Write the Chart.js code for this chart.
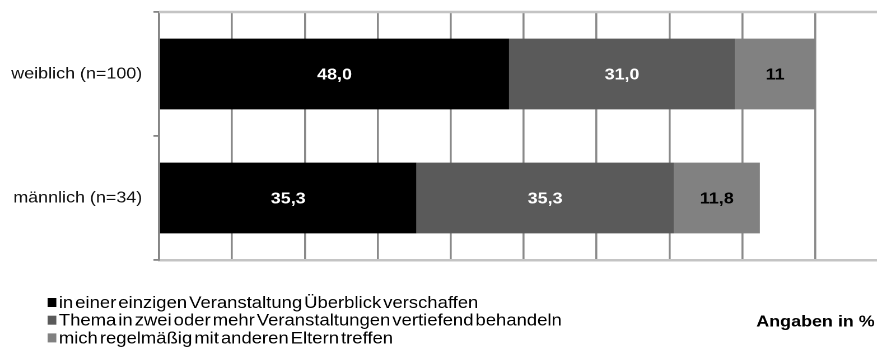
<!DOCTYPE html>
<html>
<head>
<meta charset="utf-8">
<script src="https://cdn.jsdelivr.net/npm/chart.js@4/dist/chart.umd.min.js"></script>
<style>
  html, body { margin: 0; padding: 0; background: #fff; overflow: hidden; width: 877px; height: 349px; }
  #wrap { transform: scaleX(1.12); transform-origin: 0 0; width: 797px; height: 349px; }
</style>
</head>
<body>
<div id="wrap">
  <canvas id="myChart" width="797" height="349" style="width:797px;height:349px"></canvas>
</div>
<script>
const categories = ["weiblich (n=100)", "männlich (n=34)"];
const seriesNames = [
  "in einer einzigen Veranstaltung Überblick verschaffen",
  "Thema in zwei oder mehr Veranstaltungen vertiefend behandeln",
  "mich regelmäßig mit anderen Eltern treffen",
];
const einmalig = [48.0, 35.3];
const vertiefend = [31.0, 35.3];
const regelmaessig = [11, 11.8];
// decimals shown in the value labels, per series and category
const labelDigits = [[1, 1], [1, 1], [0, 1]];
const seriesColors = ["#000000", "#5a5a5a", "#818181"];
const labelColors = ["#ffffff", "#ffffff", "#000000"];
const note = "Angaben in %";

const FONT = "'Liberation Sans', Arial, Helvetica, sans-serif";

const topLine = {
  id: "topLine",
  beforeDatasetsDraw(chart) {
    const { ctx, chartArea } = chart;
    ctx.save();
    ctx.strokeStyle = "#c4c4c4";
    ctx.lineWidth = 2.5;
    ctx.beginPath();
    ctx.moveTo(chartArea.left, chartArea.top);
    ctx.lineTo(chart.width, chartArea.top);
    ctx.stroke();
    ctx.restore();
  },
};

const valueLabels = {
  id: "valueLabels",
  afterDatasetsDraw(chart) {
    const ctx = chart.ctx;
    ctx.save();
    ctx.font = "bold 16px " + FONT;
    ctx.textAlign = "center";
    ctx.textBaseline = "middle";
    chart.data.datasets.forEach(function (ds, i) {
      const meta = chart.getDatasetMeta(i);
      meta.data.forEach(function (bar, j) {
        const txt = ds.data[j].toFixed(labelDigits[i][j]).replace(".", ",");
        ctx.fillStyle = labelColors[i];
        ctx.fillText(txt, (bar.x + bar.base) / 2, bar.y + 1);
      });
    });
    ctx.restore();
  },
};

// legend as three stacked lines, tight word spacing
const legendBox = {
  id: "legendBox",
  afterDraw(chart) {
    const ctx = chart.ctx;
    ctx.save();
    ctx.font = "16.5px " + FONT;
    ctx.wordSpacing = "-2.8px";
    ctx.textBaseline = "middle";
    chart.data.datasets.forEach(function (ds, i) {
      const y = 302.5 + i * 17.7;
      ctx.fillStyle = ds.backgroundColor;
      ctx.fillRect(42.5, y - 4.5, 7.8, 9);
      ctx.fillStyle = "#000";
      ctx.fillText(ds.label, 52.5, y + 1);
    });
    ctx.font = "bold 16px " + FONT;
    ctx.wordSpacing = "0px";
    ctx.textAlign = "right";
    ctx.fillText(note, 781, 322);
    ctx.restore();
  },
};

const ctx = document.getElementById("myChart");

const chart = new Chart(ctx, {
  type: "bar",
  data: {
    labels: categories,
    datasets: [einmalig, vertiefend, regelmaessig].map(function (values, i) {
      return {
        label: seriesNames[i],
        data: values,
        backgroundColor: seriesColors[i],
        borderWidth: 0,
        barPercentage: 0.57,
        categoryPercentage: 1,
      };
    }),
  },
  options: {
    indexAxis: "y",
    responsive: false,
    animation: false,
    devicePixelRatio: 2,
    layout: { padding: { left: 0, top: 12, right: 4, bottom: 89 } },
    plugins: {
      legend: { display: false },
      tooltip: { enabled: false },
    },
    scales: {
      x: {
        stacked: true,
        min: 0,
        max: 100,
        ticks: { display: false, stepSize: 10 },
        grid: { color: "#8a8a8a", lineWidth: 1.8, drawTicks: false },
        border: { color: "#c4c4c4", width: 2.5 },
        afterFit(scale) {
          scale.height = 0;
          scale.paddingLeft = 0;
          scale.paddingRight = 0;
        },
      },
      y: {
        stacked: true,
        ticks: {
          color: "#111",
          padding: 10,
          font: { family: FONT, size: 16 },
        },
        grid: {
          drawOnChartArea: false,
          tickLength: 5,
          color: "#858585",
          lineWidth: 1.8,
        },
        border: { color: "#858585", width: 1.8 },
        afterFit(scale) {
          scale.width = 142;
          scale.paddingTop = 0;
          scale.paddingBottom = 0;
        },
      },
    },
  },
  plugins: [topLine, valueLabels, legendBox],
});
</script>
</body>
</html>
